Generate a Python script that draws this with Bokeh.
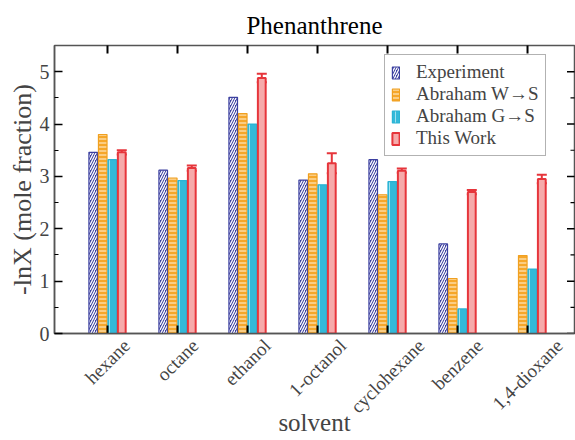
import math
from bokeh.plotting import figure
from bokeh.models import (ColumnDataSource, FixedTicker, LinearAxis, Range1d,
                          Whisker, Legend, LegendItem)
from bokeh.embed import file_html
from bokeh.resources import INLINE

solvents = ["hexane", "octane", "ethanol", "1-octanol", "cyclohexane", "benzene", "1,4-dioxane"]
experiment = [3.46, 3.12, 4.51, 2.93, 3.32, 1.71, float("nan")]
abraham_ws = [3.80, 2.97, 4.20, 3.05, 2.65, 1.05, 1.49]
abraham_gs = [3.32, 2.92, 4.00, 2.84, 2.90, 0.47, 1.23]
this_work = [3.46, 3.16, 4.88, 3.25, 3.11, 2.70, 2.95]
this_work_err = [0.04, 0.05, 0.08, 0.19, 0.04, 0.04, 0.08]
y_ticks = [0, 1, 2, 3, 4, 5]
y_minor = [0.5, 1.5, 2.5, 3.5, 4.5]

FONT = "Liberation Serif"
idx = list(range(1, len(solvents) + 1))
bw = 0.136
X0, X1 = 0.243, 7.671
Y0, Y1 = 0.0, 5.5
LEFT, RIGHT, TOP, BOTTOM = 54, 1, 45, 107
W, H = 575, 440
PX_PER_X = (W - LEFT - RIGHT) / (X1 - X0)

p = figure(width=W, height=H, output_backend="svg", toolbar_location=None,
           x_range=Range1d(X0, X1), y_range=Range1d(Y0, Y1), x_axis_type=None,
           min_border_left=LEFT, min_border_right=RIGHT, min_border_top=TOP,
           min_border_bottom=BOTTOM, title="Phenanthrene")
p.title.align = "center"
p.title.text_font = FONT
p.title.text_font_size = "25px"
p.title.text_font_style = "normal"
p.title.text_color = "black"
p.title.standoff = 14
p.xgrid.visible = False
p.ygrid.visible = False
p.outline_line_color = "#555555"
p.outline_line_width = 1.5

def src(vals, off):
    return ColumnDataSource(dict(x=[i + off * bw for i in idx], top=vals))

r_exp = p.vbar(x="x", top="top", width=bw * 0.9, source=src(experiment, -1.5),
               fill_color="#3c40a0", line_color="#3c40a0", line_width=1.2,
               hatch_pattern="/", hatch_color="white", hatch_scale=5, hatch_weight=1.3)
r_ws = p.vbar(x="x", top="top", width=bw * 0.9, source=src(abraham_ws, -0.5),
              fill_color="#f6a72a", line_color="#f0a020", line_width=1.2,
              hatch_pattern="-", hatch_color="#fff3dc", hatch_scale=4, hatch_weight=1.0)
r_gs = p.vbar(x="x", top="top", width=bw * 0.9, source=src(abraham_gs, 0.5),
              fill_color="#33b9d9", line_color="#2ab3d4", line_width=1.2,
              hatch_pattern="|", hatch_color="#9fe0f0", hatch_scale=7, hatch_weight=1.0)
tw_src = ColumnDataSource(dict(
    x=[i + 1.5 * bw for i in idx], top=this_work,
    lo=[v - e for v, e in zip(this_work, this_work_err)],
    hi=[v + e for v, e in zip(this_work, this_work_err)]))
r_tw = p.vbar(x="x", top="top", width=bw * 0.82, source=tw_src,
              fill_color="#f6aaaa", line_color="#e6353b", line_width=2)
wh = Whisker(base="x", lower="lo", upper="hi", source=tw_src,
             line_color="#e6353b", line_width=2)
for head in (wh.upper_head, wh.lower_head):
    head.size = 10
    head.line_color = "#e6353b"
    head.line_width = 2
p.add_layout(wh)

# inward tick marks on bottom, top and right edges (outer half of each dash is clipped)
p.scatter(x=idx, y=[Y0] * len(idx), marker="dash", angle=math.pi / 2, size=16,
          line_color="black", line_width=2)
p.scatter(x=idx, y=[Y1] * len(idx), marker="dash", angle=math.pi / 2, size=16,
          line_color="black", line_width=2)
p.scatter(x=[X1] * len(y_ticks), y=y_ticks, marker="dash", size=15,
          line_color="black", line_width=1.5)
p.scatter(x=[X1] * len(y_minor), y=y_minor, marker="dash", size=8,
          line_color="black", line_width=1.2)

# bottom axis: rotated names, anchored so each one is centred under its category
LBL_FS = 19
char_w = {"a": .444, "b": .5, "c": .444, "d": .5, "e": .444, "h": .5, "i": .278,
          "l": .278, "n": .5, "o": .5, "t": .278, "x": .5, "y": .5, "z": .444,
          "-": .333, ",": .25, "1": .5, "4": .5}
def anchor(i, s):
    L = sum(char_w.get(c, .5) for c in s) * LBL_FS
    return i + L * math.sqrt(0.5) / 2 / PX_PER_X

anchors = [anchor(i, s) for i, s in zip(idx, solvents)]
xa = LinearAxis(ticker=FixedTicker(ticks=anchors, minor_ticks=[]),
                major_label_overrides={a: s for a, s in zip(anchors, solvents)},
                major_label_orientation=math.pi / 4,
                major_label_text_font=FONT, major_label_text_font_size=f"{LBL_FS}px",
                major_label_standoff=9, major_tick_in=0, major_tick_out=0,
                minor_tick_line_color=None, major_tick_line_color=None,
                axis_line_color="#555555", axis_line_width=1.5,
                axis_label="solvent", axis_label_text_font=FONT,
                axis_label_text_font_size="25px", axis_label_text_font_style="normal",
                axis_label_standoff=-18)
p.add_layout(xa, "below")

# left axis
ya = p.yaxis[0]
ya.ticker = FixedTicker(ticks=y_ticks, minor_ticks=y_minor)
ya.major_label_text_font = FONT
ya.major_label_text_font_size = "20px"
ya.major_label_standoff = 5
ya.major_tick_in = 8
ya.major_tick_out = 0
ya.minor_tick_in = 4
ya.minor_tick_out = 0
ya.major_tick_line_width = 1.5
ya.axis_line_color = "#555555"
ya.axis_line_width = 1.5
ya.axis_label = "-lnX (mole fraction)"
ya.axis_label_text_font = FONT
ya.axis_label_text_font_size = "26px"
ya.axis_label_text_font_style = "normal"
ya.axis_label_standoff = 0

legend = Legend(items=[
    LegendItem(label="Experiment", renderers=[r_exp]),
    LegendItem(label="Abraham W\u2192S", renderers=[r_ws]),
    LegendItem(label="Abraham G\u2192S", renderers=[r_gs]),
    LegendItem(label="This Work", renderers=[r_tw]),
], location=(330, 177))
legend.label_text_font = FONT
legend.label_text_font_size = "19px"
legend.label_text_line_height = 0.95
legend.glyph_width = 9
legend.glyph_height = 15
legend.label_height = 17
legend.spacing = 0
legend.padding = 6
legend.margin = 0
legend.label_standoff = 16
legend.border_line_color = "#666666"
legend.border_line_width = 1.5
legend.background_fill_alpha = 1
p.add_layout(legend, "center")

open("out.html", "w").write(file_html(p, INLINE))
